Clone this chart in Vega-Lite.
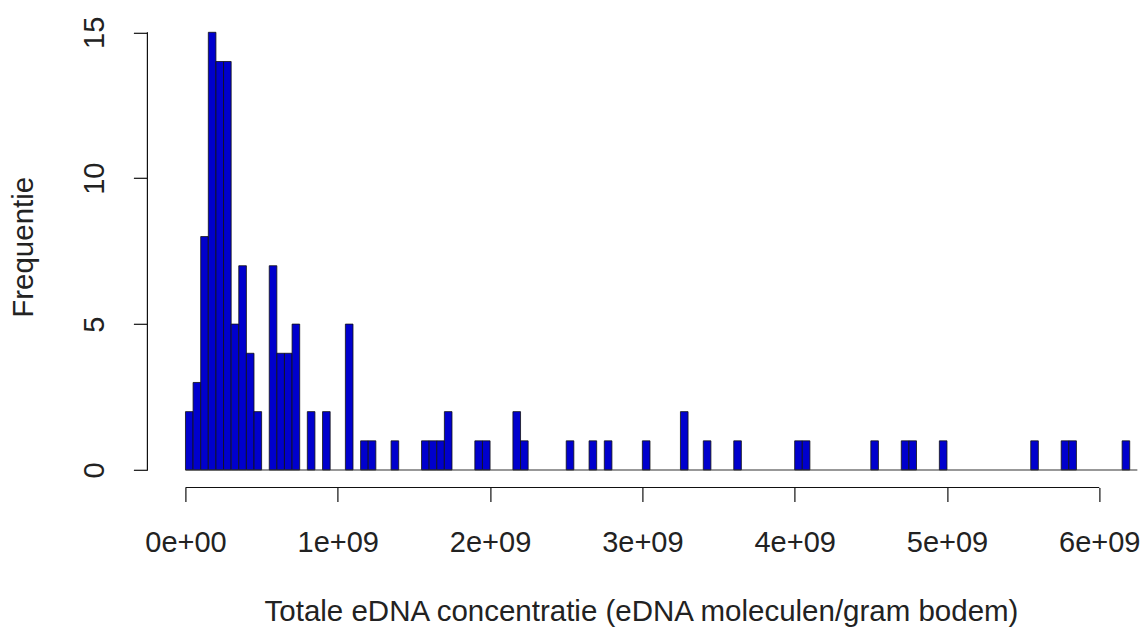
{
  "$schema": "https://vega.github.io/schema/vega-lite/v6.json",
  "width": 993,
  "height": 472.7,
  "autosize": "none",
  "padding": {"left": 147.4, "top": 14.8, "right": 0, "bottom": 142.5},
  "background": "white",
  "config": {
    "view": {"stroke": null},
    "font": "Liberation Sans, Arial",
    "axis": {"grid": false, "domain": false, "tickColor": "#111", "tickWidth": 1.2, "tickSize": 14, "labelFont": "Liberation Sans, Arial", "titleFont": "Liberation Sans, Arial", "labelFontSize": 29, "titleFontSize": 29.5, "labelColor": "#222", "titleColor": "#222", "titleFontWeight": "normal", "labelOverlap": false, "labelBound": false, "labelFlush": false}
  },
  "datasets": {
    "bins": [
      {"x0": 0, "x1": 50000000, "count": 2},
      {"x0": 50000000, "x1": 100000000, "count": 3},
      {"x0": 100000000, "x1": 150000000, "count": 8},
      {"x0": 150000000, "x1": 200000000, "count": 15},
      {"x0": 200000000, "x1": 250000000, "count": 14},
      {"x0": 250000000, "x1": 300000000, "count": 14},
      {"x0": 300000000, "x1": 350000000, "count": 5},
      {"x0": 350000000, "x1": 400000000, "count": 7},
      {"x0": 400000000, "x1": 450000000, "count": 4},
      {"x0": 450000000, "x1": 500000000, "count": 2},
      {"x0": 550000000, "x1": 600000000, "count": 7},
      {"x0": 600000000, "x1": 650000000, "count": 4},
      {"x0": 650000000, "x1": 700000000, "count": 4},
      {"x0": 700000000, "x1": 750000000, "count": 5},
      {"x0": 800000000, "x1": 850000000, "count": 2},
      {"x0": 900000000, "x1": 950000000, "count": 2},
      {"x0": 1050000000, "x1": 1100000000, "count": 5},
      {"x0": 1150000000, "x1": 1200000000, "count": 1},
      {"x0": 1200000000, "x1": 1250000000, "count": 1},
      {"x0": 1350000000, "x1": 1400000000, "count": 1},
      {"x0": 1550000000, "x1": 1600000000, "count": 1},
      {"x0": 1600000000, "x1": 1650000000, "count": 1},
      {"x0": 1650000000, "x1": 1700000000, "count": 1},
      {"x0": 1700000000, "x1": 1750000000, "count": 2},
      {"x0": 1900000000, "x1": 1950000000, "count": 1},
      {"x0": 1950000000, "x1": 2000000000, "count": 1},
      {"x0": 2150000000, "x1": 2200000000, "count": 2},
      {"x0": 2200000000, "x1": 2250000000, "count": 1},
      {"x0": 2500000000, "x1": 2550000000, "count": 1},
      {"x0": 2650000000, "x1": 2700000000, "count": 1},
      {"x0": 2750000000, "x1": 2800000000, "count": 1},
      {"x0": 3000000000, "x1": 3050000000, "count": 1},
      {"x0": 3250000000, "x1": 3300000000, "count": 2},
      {"x0": 3400000000, "x1": 3450000000, "count": 1},
      {"x0": 3600000000, "x1": 3650000000, "count": 1},
      {"x0": 4000000000, "x1": 4050000000, "count": 1},
      {"x0": 4050000000, "x1": 4100000000, "count": 1},
      {"x0": 4500000000, "x1": 4550000000, "count": 1},
      {"x0": 4700000000, "x1": 4750000000, "count": 1},
      {"x0": 4750000000, "x1": 4800000000, "count": 1},
      {"x0": 4950000000, "x1": 5000000000, "count": 1},
      {"x0": 5550000000, "x1": 5600000000, "count": 1},
      {"x0": 5750000000, "x1": 5800000000, "count": 1},
      {"x0": 5800000000, "x1": 5850000000, "count": 1},
      {"x0": 6150000000, "x1": 6200000000, "count": 1}
    ],
    "baseline": [{"x0": 0, "x1": 6250000000, "y": 0}],
    "xaxisline": [{"x0": 0, "x1": 6000000000, "y": -0.6}],
    "yaxisline": [{"x": -250000000, "y0": 0, "y1": 15}]
  },
  "layer": [
    {
      "data": {"name": "bins"},
      "mark": {"type": "rect", "fill": "#0000CD", "stroke": "#111", "strokeWidth": 0.8},
      "encoding": {
        "x": {"field": "x0", "type": "quantitative", "scale": {"domain": [-250000000, 6270000000], "nice": false, "zero": false},
          "axis": {"values": [0, 1000000000, 2000000000, 3000000000, 4000000000, 5000000000, 6000000000], "labelExpr": "datum.value == 0 ? '0e+00' : format(datum.value / 1e9, 'd') + 'e+09'", "labelPadding": 41, "labelBaseline": "middle", "title": "Totale eDNA concentratie (eDNA moleculen/gram bodem)", "titleX": 493.6, "titleY": 124.5, "titleAlign": "center", "titleBaseline": "middle"}},
        "x2": {"field": "x1"},
        "y": {"field": "count", "type": "quantitative", "scale": {"domain": [-0.6, 15.6], "nice": false, "zero": false},
          "axis": {"values": [0, 5, 10, 15], "labelAngle": -90, "labelAlign": "center", "labelBaseline": "middle", "labelPadding": 39, "title": "Frequentie", "titleX": -123.4, "titleY": 232, "titleAngle": -90, "titleAlign": "center", "titleBaseline": "middle"}},
        "y2": {"datum": 0}
      }
    },
    {
      "data": {"name": "baseline"},
      "mark": {"type": "rule", "color": "#333", "strokeWidth": 1.2},
      "encoding": {
        "x": {"field": "x0", "type": "quantitative"},
        "x2": {"field": "x1"},
        "y": {"field": "y", "type": "quantitative"}
      }
    },
    {
      "data": {"name": "xaxisline"},
      "mark": {"type": "rule", "color": "#111", "strokeWidth": 1.2},
      "encoding": {
        "x": {"field": "x0", "type": "quantitative"},
        "x2": {"field": "x1"},
        "y": {"field": "y", "type": "quantitative"}
      }
    },
    {
      "data": {"name": "yaxisline"},
      "mark": {"type": "rule", "color": "#111", "strokeWidth": 1.2},
      "encoding": {
        "x": {"field": "x", "type": "quantitative"},
        "y": {"field": "y0", "type": "quantitative"},
        "y2": {"field": "y1"}
      }
    }
  ]
}
